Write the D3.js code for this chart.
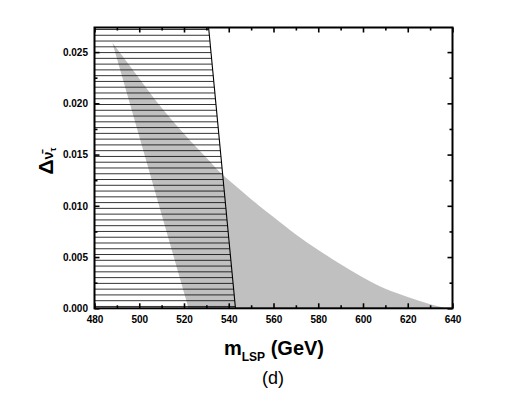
<!DOCTYPE html>
<html>
<head>
<meta charset="utf-8">
<script src="https://cdn.jsdelivr.net/npm/d3@7"></script>
<style>
  body { margin: 0; background: #fff; }
  svg { display: block; font-family: "Liberation Sans", Arial, sans-serif; }
</style>
</head>
<body>
<svg id="chart" width="526" height="393"></svg>
<script>
// shaded (gray) allowed region: upper edge, then bottom corner
const grayUpperX = [488, 498, 508, 516, 523, 530, 536, 546, 553, 560, 570, 580, 590, 600, 610, 620, 630, 637];
const grayUpperY = [0.0259, 0.0230, 0.0201, 0.0180, 0.0163, 0.0147, 0.0133, 0.0114, 0.0101, 0.0089, 0.0072, 0.0057, 0.0043, 0.0030, 0.0019, 0.0011, 0.0004, 0.0];
const grayLowerX = [522];
const grayLowerY = [0.0];

// hatched (excluded) region boundary
const hatchX = [480, 531, 543, 480];
const hatchY = [0.0274, 0.0274, 0.0, 0.0];

// ticks
const xMajor = [480, 500, 520, 540, 560, 580, 600, 620, 640];
const xMinor = [490, 510, 530, 550, 570, 590, 610, 630];
const yMajor = [0.000, 0.005, 0.010, 0.015, 0.020, 0.025];
const yMinor = [0.0025, 0.0075, 0.0125, 0.0175, 0.0225];

const svg = d3.select('#chart');
const pLeft = 94.5, pRight = 452.5, pTop = 27.5, pBottom = 308.3;

const x = d3.scaleLinear().domain([480, 640]).range([pLeft, pRight]);
const y = d3.scaleLinear().domain([0, 0.0274]).range([pBottom, pTop]);

// gray polygon: smooth upper edge, straight lower edge back to the tip
const upperPts = grayUpperX.map((v, i) => [v, grayUpperY[i]]);
const upperPath = d3.line().curve(d3.curveMonotoneX).x(d => x(d[0])).y(d => y(d[1]))(upperPts);
const lowerPath = grayLowerX.map((v, i) => `L${x(v)},${y(grayLowerY[i])}`).join('');
svg.append('path')
  .attr('d', upperPath + lowerPath + 'Z')
  .attr('fill', '#c0c0c0');

// hatched region
const hatchPts = hatchX.map((v, i) => [v, hatchY[i]]);
const hatchPath = d3.line().x(d => x(d[0])).y(d => y(d[1]))(hatchPts) + 'Z';

svg.append('clipPath').attr('id', 'hatchClip')
  .append('path').attr('d', hatchPath);

// horizontal hatch lines (pure styling, spaced in pixels)
const step = 5.77;
const lines = d3.range(pTop + 2, pBottom - 1, step);
svg.append('g')
  .attr('clip-path', 'url(#hatchClip)')
  .selectAll('line')
  .data(lines)
  .enter()
  .append('line')
  .attr('x1', pLeft)
  .attr('x2', pRight)
  .attr('y1', d => d)
  .attr('y2', d => d)
  .attr('stroke', '#000')
  .attr('stroke-width', 0.8);

// hatch boundary line
svg.append('line')
  .attr('x1', x(hatchX[1])).attr('y1', y(hatchY[1]))
  .attr('x2', x(hatchX[2])).attr('y2', y(hatchY[2]))
  .attr('stroke', '#000')
  .attr('stroke-width', 1.1);

// axes helper
function styleAxis(g) {
  g.select('.domain').remove();
  g.selectAll('line').attr('stroke', '#000').attr('stroke-width', 1.6);
  g.selectAll('text')
    .attr('fill', '#000')
    .attr('font-size', '10px')
    .attr('font-weight', 'bold')
    .attr('font-family', '"Liberation Sans", Arial, sans-serif');
}

// bottom
svg.append('g').attr('transform', `translate(0,${pBottom})`)
  .call(d3.axisBottom(x).tickValues(xMajor).tickSize(-5).tickPadding(8).tickFormat(d3.format('d')))
  .call(styleAxis);
svg.append('g').attr('transform', `translate(0,${pBottom})`)
  .call(d3.axisBottom(x).tickValues(xMinor).tickSize(-3).tickFormat(''))
  .call(styleAxis);
// top
svg.append('g').attr('transform', `translate(0,${pTop})`)
  .call(d3.axisTop(x).tickValues(xMajor).tickSize(-5).tickFormat(''))
  .call(styleAxis);
svg.append('g').attr('transform', `translate(0,${pTop})`)
  .call(d3.axisTop(x).tickValues(xMinor).tickSize(-3).tickFormat(''))
  .call(styleAxis);
// left
svg.append('g').attr('transform', `translate(${pLeft},0)`)
  .call(d3.axisLeft(y).tickValues(yMajor).tickSize(-5).tickPadding(6.5).tickFormat(d3.format('.3f')))
  .call(styleAxis);
svg.append('g').attr('transform', `translate(${pLeft},0)`)
  .call(d3.axisLeft(y).tickValues(yMinor).tickSize(-3).tickFormat(''))
  .call(styleAxis);
// right
svg.append('g').attr('transform', `translate(${pRight},0)`)
  .call(d3.axisRight(y).tickValues(yMajor).tickSize(-5).tickFormat(''))
  .call(styleAxis);
svg.append('g').attr('transform', `translate(${pRight},0)`)
  .call(d3.axisRight(y).tickValues(yMinor).tickSize(-3).tickFormat(''))
  .call(styleAxis);

// frame
svg.append('rect')
  .attr('x', pLeft).attr('y', pTop)
  .attr('width', pRight - pLeft).attr('height', pBottom - pTop)
  .attr('fill', 'none')
  .attr('stroke', '#000')
  .attr('stroke-width', 2);

// x title
const xt = svg.append('text')
  .attr('x', 274)
  .attr('y', 355)
  .attr('text-anchor', 'middle')
  .attr('font-weight', 'bold')
  .attr('font-size', '20px')
  .attr('fill', '#000');
xt.append('tspan').text('m');
xt.append('tspan').attr('font-size', '12px').attr('dy', 6).text('LSP');
xt.append('tspan').attr('dy', -6).text(' (GeV)');

svg.append('text')
  .attr('x', 273)
  .attr('y', 384)
  .attr('text-anchor', 'middle')
  .attr('font-size', '18px')
  .attr('fill', '#000')
  .text('(d)');

// y title
const yt = svg.append('text')
  .attr('transform', 'translate(53,161) rotate(-90)')
  .attr('text-anchor', 'middle')
  .attr('font-weight', 'bold')
  .attr('fill', '#000');
yt.append('tspan').attr('font-size', '21px').text('\u0394');
yt.append('tspan').attr('font-size', '14px').text('\u03BD\u0304');
yt.append('tspan').attr('font-size', '9px').attr('dy', 3).text('\u03C4');
</script>
</body>
</html>
